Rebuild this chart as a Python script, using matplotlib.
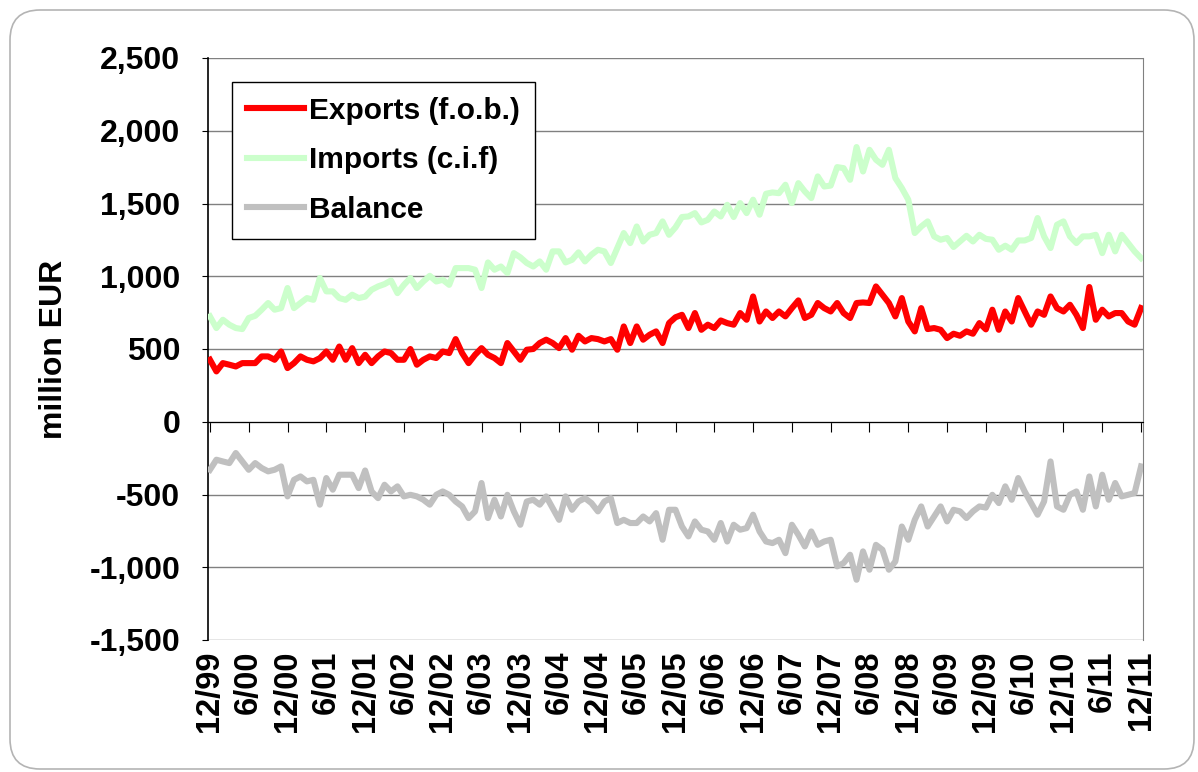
import numpy as np
import matplotlib.pyplot as plt
import matplotlib.transforms as mtransforms
from matplotlib.ticker import FuncFormatter, MultipleLocator
from matplotlib.patches import FancyBboxPatch

plt.rcParams['font.family'] = ['Liberation Sans', 'DejaVu Sans']
plt.rcParams['font.weight'] = 'bold'

# monthly values, 12/99 ... 12/11 (million EUR)
exports = [426, 346, 403, 392, 380, 403, 403, 403, 449, 449, 426, 483, 369, 403, 449, 426,
           415, 437, 483, 426, 517, 426, 506, 403, 460, 403, 449, 483, 472, 426, 426, 500,
           392, 426, 449, 438, 483, 472, 568, 472, 403, 460, 506, 460, 438, 403, 541, 483,
           426, 495, 500, 541, 564, 541, 506, 575, 495, 591, 552, 575, 568, 552, 568, 495,
           655, 541, 655, 564, 598, 621, 541, 678, 718, 735, 644, 747, 632, 667, 644, 696,
           678, 667, 747, 701, 861, 689, 758, 713, 758, 724, 781, 834, 713, 735, 816, 781,
           758, 816, 747, 713, 816, 820, 816, 930, 873, 816, 724, 850, 689, 621, 781, 637,
           644, 632, 575, 605, 591, 621, 605, 678, 635, 770, 632, 758, 689, 850, 758, 667,
           758, 735, 861, 781, 758, 804, 735, 644, 926, 701, 770, 724, 747, 747, 689, 667,
           781]
imports = [724, 644, 701, 667, 644, 637, 713, 728, 770, 816, 770, 781, 919, 781, 816, 850,
           838, 988, 896, 896, 850, 838, 873, 850, 860, 907, 930, 946, 971, 884, 941, 988,
           919, 964, 1003, 964, 976, 941, 1056, 1056, 1056, 1045, 919, 1095, 1045, 1067, 1022, 1159,
           1130, 1091, 1067, 1102, 1045, 1171, 1171, 1095, 1113, 1164, 1102, 1148, 1182, 1171, 1091, 1194,
           1297, 1228, 1342, 1239, 1285, 1297, 1377, 1285, 1336, 1407, 1411, 1434, 1370, 1388, 1445, 1411,
           1491, 1407, 1503, 1434, 1526, 1423, 1567, 1576, 1571, 1629, 1503, 1640, 1583, 1537, 1686, 1617,
           1623, 1750, 1743, 1663, 1888, 1720, 1869, 1801, 1766, 1869, 1675, 1606, 1526, 1297, 1342, 1377,
           1274, 1251, 1263, 1201, 1239, 1278, 1239, 1285, 1257, 1251, 1182, 1210, 1182, 1246, 1246, 1263,
           1400, 1274, 1194, 1354, 1377, 1274, 1228, 1274, 1274, 1285, 1159, 1285, 1171, 1285, 1228, 1171,
           1125]
balance = [-330, -261, -273, -284, -215, -273, -330, -284, -318, -341, -330, -307, -513, -399, -376, -410,
           -399, -570, -387, -467, -364, -364, -364, -456, -335, -479, -525, -433, -479, -444, -513, -502,
           -513, -536, -570, -502, -479, -502, -548, -582, -662, -616, -421, -662, -536, -651, -502, -616,
           -708, -548, -536, -570, -513, -593, -674, -513, -605, -548, -525, -559, -616, -548, -525, -696,
           -674, -696, -696, -651, -685, -628, -811, -605, -605, -720, -788, -685, -742, -754, -811, -696,
           -823, -708, -742, -731, -639, -754, -823, -834, -811, -903, -708, -777, -857, -754, -846, -823,
           -811, -994, -971, -914, -1086, -891, -1017, -846, -880, -1017, -960, -720, -811, -674, -582, -720,
           -651, -582, -685, -605, -616, -662, -616, -582, -590, -502, -559, -444, -536, -387, -479, -559,
           -639, -548, -273, -582, -605, -502, -479, -605, -376, -582, -364, -536, -421, -513, -502, -490,
           -307]
tick_labels = ["12/99", "6/00", "12/00", "6/01", "12/01", "6/02", "12/02", "6/03", "12/03",
               "6/04", "12/04", "6/05", "12/05", "6/06", "12/06", "6/07", "12/07", "6/08",
               "12/08", "6/09", "12/09", "6/10", "12/10", "6/11", "12/11"]

months = np.arange(len(exports))
W, H = 1198, 772

fig = plt.figure(figsize=(W / 100, H / 100), dpi=100)
ax = fig.add_axes([208 / W, 1 - 640 / H, (1143 - 208) / W, (640 - 58) / H])

# outer rounded frame
frame = FancyBboxPatch((0.10, 0.03), 11.84, 7.59, boxstyle="round,pad=0,rounding_size=0.3",
                       transform=fig.dpi_scale_trans, fill=False, edgecolor="#b4b4b4", lw=1.2)
fig.patches.append(frame)

lw = 4.4
l_exp, = ax.plot(months, exports, color="#ff0000", lw=lw, solid_joinstyle="round", zorder=3)
l_imp, = ax.plot(months, imports, color="#ccffcc", lw=lw, solid_joinstyle="round", zorder=3)
l_bal, = ax.plot(months, balance, color="#c0c0c0", lw=lw, solid_joinstyle="round", zorder=3)

ax.set_xlim(-0.3, 144.3)
ax.set_ylim(-1500, 2500)
ax.yaxis.set_major_locator(MultipleLocator(500))
ax.yaxis.set_major_formatter(FuncFormatter(lambda v, p: f"{int(v):,}"))
ax.yaxis.grid(True, color="#808080", lw=1)
ax.set_axisbelow(True)

ax.spines["top"].set_visible(False)
ax.spines["right"].set_color("#808080")
ax.spines["left"].set_color("black")
ax.spines["left"].set_linewidth(1.2)
ax.spines["bottom"].set_position(("data", 0))
ax.spines["bottom"].set_color("black")

ax.set_xticks(months[::6])
ax.tick_params(axis="x", direction="out", length=7, color="black", labelbottom=False)
ax.tick_params(axis="y", direction="out", length=4, pad=16, labelsize=23)

trans = mtransforms.blended_transform_factory(ax.transData, ax.transAxes)
for pos, lab in zip(months[::6], tick_labels):
    ax.text(pos, -0.018, lab, transform=trans, rotation=90, ha="center", va="top",
            fontsize=23.5, fontweight="bold")

ax.set_ylabel("million EUR", fontsize=23, fontweight="bold", labelpad=15)

leg = ax.legend([l_exp, l_imp, l_bal], ["Exports (f.o.b.)", "Imports (c.i.f)", "Balance"],
                loc="upper left", bbox_to_anchor=(0.0257, 0.9588), borderaxespad=0,
                fontsize=21.5, handlelength=1.9, handletextpad=0.18, labelspacing=0.72,
                borderpad=0.5, fancybox=False, framealpha=1, edgecolor="black")
leg.get_frame().set_linewidth(1.0)

plt.savefig("out.png", dpi=100)
